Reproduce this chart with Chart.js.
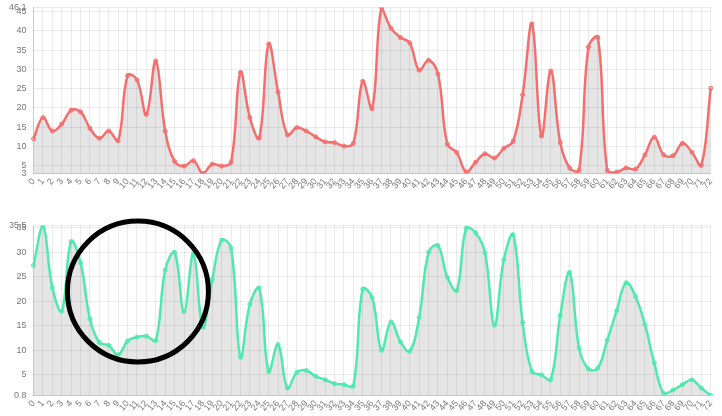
<!DOCTYPE html>
<html>
<head>
<meta charset="utf-8">
<script src="https://cdn.jsdelivr.net/npm/chart.js@4/dist/chart.umd.min.js"></script>
<style>
    html, body { margin: 0; padding: 0; background: #fff; }
    body { width: 722px; height: 416px; overflow: hidden; position: relative; }
    .wrap { position: absolute; left: 0; width: 722px; }
    #topWrap { top: -5px; height: 199px; }
    #bottomWrap { top: 213px; height: 203px; }
</style>
</head>
<body>
<div class="wrap" id="topWrap"><canvas id="topChart"></canvas></div>
<div class="wrap" id="bottomWrap"><canvas id="bottomChart"></canvas></div>

<script>
// 73 samples, labelled 0..72
const categories = [
    '0','1','2','3','4','5','6','7','8','9','10','11','12','13','14','15','16','17','18','19',
    '20','21','22','23','24','25','26','27','28','29','30','31','32','33','34','35','36','37','38','39',
    '40','41','42','43','44','45','46','47','48','49','50','51','52','53','54','55','56','57','58','59',
    '60','61','62','63','64','65','66','67','68','69','70','71','72'
];

const redValues = [
    12, 17.5, 14, 15.8, 19.4, 19, 14.7, 12.1, 14, 11.5,
    28.4, 27.3, 18.3, 32.2, 14, 6.1, 4.9, 6.3, 3, 5.4,
    4.9, 5.9, 29.2, 17.5, 12.2, 36.6, 24.1, 13, 14.9, 14,
    12.5, 11.2, 11, 10.1, 10.8, 26.9, 19.8, 46.1, 40.7, 38.3,
    36.9, 29.8, 32.4, 28.8, 10.6, 8.4, 3.4, 5.9, 8.1, 7,
    9.5, 11.4, 23.4, 41.8, 12.7, 29.6, 11, 4.4, 3.8, 35.8,
    38.3, 3.8, 3.3, 4.4, 4.1, 7.8, 12.4, 7.8, 7.6, 10.8,
    8.5, 5.1, 25.1
];

const greenValues = [
    27.3, 35.5, 22.8, 18, 32.2, 27.9, 16.4, 11.6, 11, 9.1,
    11.9, 12.7, 12.9, 12, 26.4, 30, 17.9, 29.7, 14.7, 24.4,
    32.5, 30.9, 8.6, 19.4, 22.7, 5.7, 11.2, 2.3, 5.5, 5.9,
    4.7, 4, 3.2, 3, 2.7, 22.5, 20.8, 10, 15.8, 11.8,
    9.8, 16.7, 30, 31.4, 24.9, 22.2, 34.9, 34, 29.9, 15.1,
    28.5, 33.6, 15.7, 5.7, 5, 4, 17.1, 25.9, 10.5, 6.2,
    6.4, 12.1, 18.1, 23.8, 21, 15.3, 7.4, 1.2, 1.9, 3,
    4, 2.3, 0.8
];

const redTicks = [3, 5, 10, 15, 20, 25, 30, 35, 40, 45, 46.1];
const greenTicks = [0.8, 5, 10, 15, 20, 25, 30, 35, 35.5];

// hand-drawn ring over the quiet stretch of the lower chart
const ringPlugin = {
    id: 'ring',
    afterDraw(chart, args, opts) {
        if (!opts.show) return;
        const { ctx, scales } = chart;
        const cx = scales.x.getPixelForValue(opts.index);
        const cy = scales.y.getPixelForValue(opts.value);
        ctx.save();
        ctx.beginPath();
        ctx.arc(cx, cy, opts.radius, 0, Math.PI * 2);
        ctx.lineWidth = 5;
        ctx.strokeStyle = '#000';
        ctx.stroke();
        ctx.restore();
    }
};

Chart.defaults.font.family = '"Liberation Sans", Arial, Helvetica, sans-serif';
Chart.defaults.font.size = 9;
Chart.defaults.color = '#777';

function makeChart(id, values, tickValues, lineColor, pointFill, ring) {
    const ctx = document.getElementById(id);
    return new Chart(ctx, {
        type: 'line',
        data: {
            labels: categories,
            datasets: [{
                data: values,
                borderColor: lineColor,
                backgroundColor: 'rgba(0,0,0,0.1)',
                pointBackgroundColor: pointFill,
                pointBorderColor: lineColor,
                pointBorderWidth: 1,
                pointRadius: 2,
                borderWidth: 2.5,
                tension: 0.4,
                fill: 'start'
            }]
        },
        plugins: [ringPlugin],
        options: {
            responsive: true,
            maintainAspectRatio: false,
            animation: false,
            layout: { padding: { top: 0, right: 6, left: 2 } },
            plugins: {
                legend: { display: false },
                tooltip: { enabled: false },
                ring: ring || { show: false }
            },
            scales: {
                x: {
                    grid: { color: 'rgba(0,0,0,0.08)', drawTicks: false },
                    border: { color: 'rgba(0,0,0,0.15)' },
                    ticks: { autoSkip: false, minRotation: 50, maxRotation: 50, padding: 3 }
                },
                y: {
                    min: tickValues[0],
                    max: tickValues[tickValues.length - 1],
                    afterBuildTicks: axis => {
                        axis.ticks = tickValues.map(v => ({ value: v }));
                    },
                    grid: { color: 'rgba(0,0,0,0.08)', drawTicks: false },
                    border: { color: 'rgba(0,0,0,0.15)' },
                    ticks: { padding: 7 }
                }
            }
        }
    });
}

document.addEventListener('DOMContentLoaded', () => {
    makeChart('topChart', redValues, redTicks, 'rgb(245,110,110)', 'rgba(245,110,110,0.4)');
    makeChart('bottomChart', greenValues, greenTicks, 'rgb(80,232,175)', 'rgba(80,232,175,0.4)',
        { show: true, index: 11.1, value: 22, radius: 70.5 });
});
</script>
</body>
</html>
